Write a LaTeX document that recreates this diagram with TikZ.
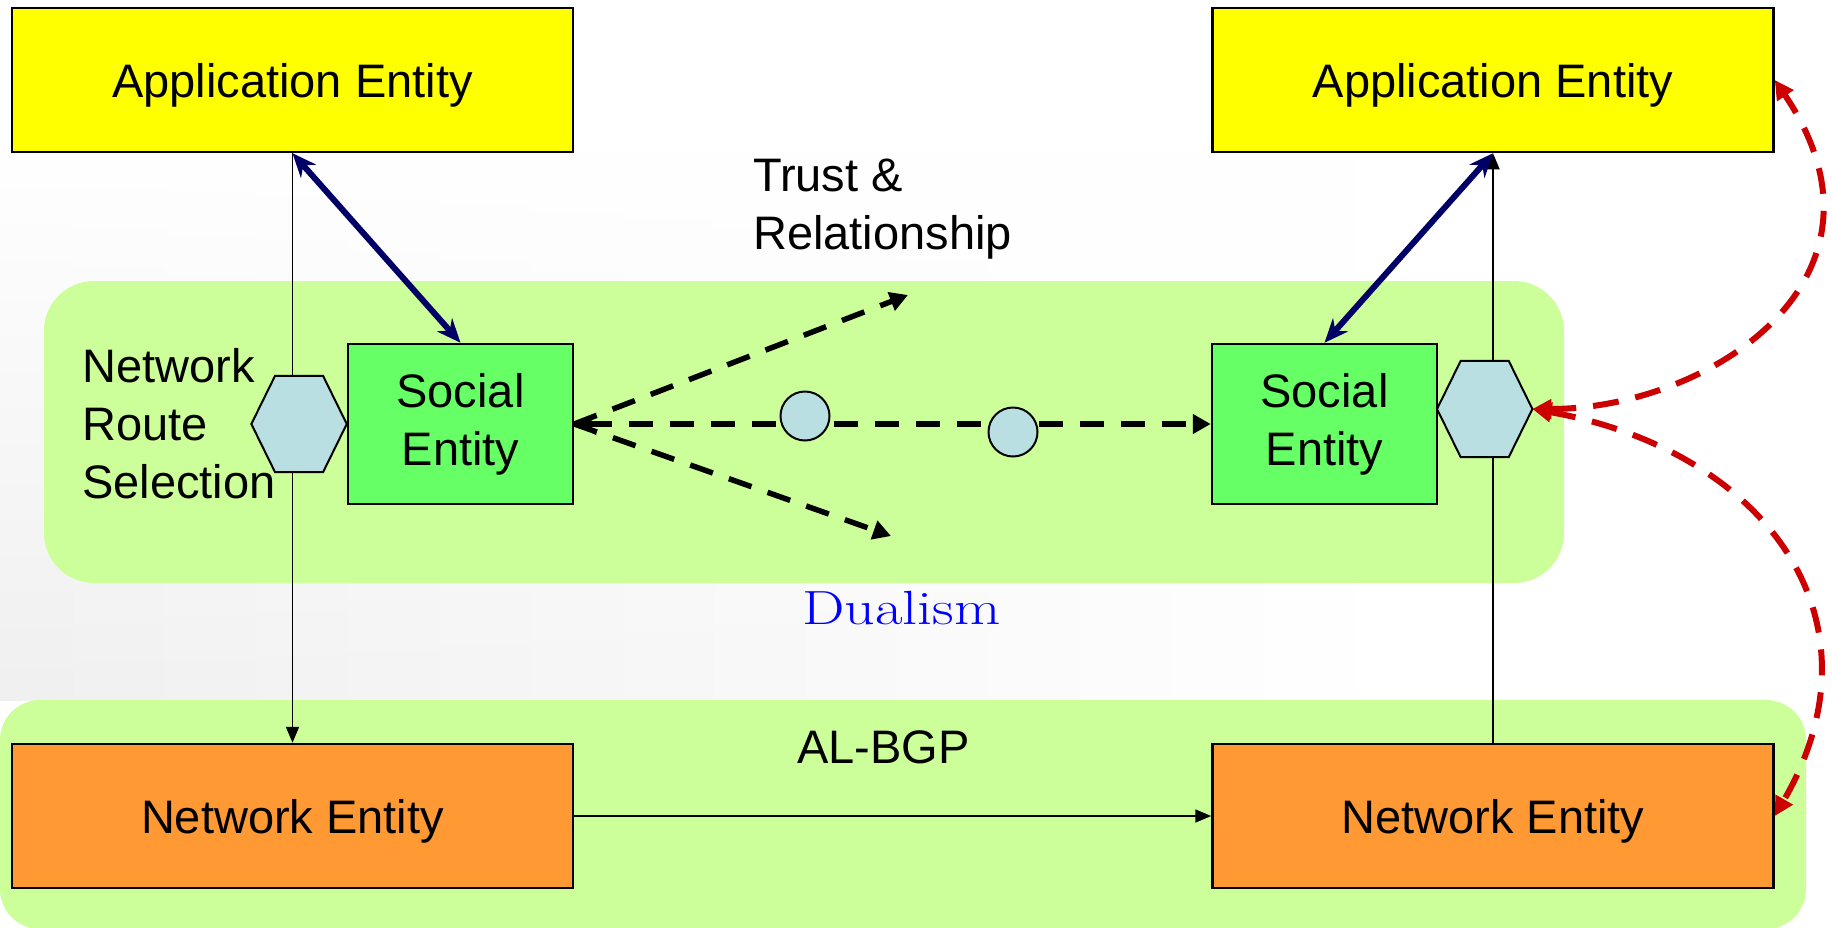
\documentclass[tikz,border=0pt]{standalone}
\usepackage{fontspec}
\newfontfamily\arialfont{Liberation Sans}
\usetikzlibrary{arrows.meta,fadings}

\definecolor{appyellow}{HTML}{FFFF00}
\definecolor{socgreen}{HTML}{66FF66}
\definecolor{bandgreen}{HTML}{CCFF99}
\definecolor{netorange}{HTML}{FF9933}
\definecolor{hexblue}{HTML}{B9DFE3}
\definecolor{linknavy}{HTML}{000066}
\definecolor{linkred}{HTML}{CC0000}

\begin{document}
\begin{tikzpicture}[x=1pt,y=-1pt,
    every node/.style={font=\arialfont\fontsize{47}{58}\selectfont},
    band/.style={fill=bandgreen, rounded corners=50pt},
    entity/.style={draw, line width=2.5pt, minimum width=561pt,
      minimum height=144pt, text height=34pt, text depth=0pt, inner sep=0pt},
    social/.style={draw, line width=2.5pt, fill=socgreen, minimum width=225pt,
      minimum height=160pt, align=center, inner sep=0pt},
    hexbox/.style={minimum width=95pt, minimum height=96pt, inner sep=0pt},
    hexdraw/.style={draw, line width=2pt, fill=hexblue},
    relay/.style={circle, draw, line width=2pt, fill=hexblue,
      minimum size=49pt, inner sep=0pt},
    thin link/.style={line width=1.8pt, -{Triangle[length=16pt,width=13pt]}},
    mapping/.style={linknavy, line width=6pt,
      {Stealth[length=24pt,width=20pt]}-{Stealth[length=24pt,width=20pt]}},
    trust/.style={line width=5.5pt, dash pattern=on 24pt off 17pt,
      -{Triangle[length=18pt,width=19pt]}},
    feedback/.style={linkred, line width=6pt, dash pattern=on 26pt off 17pt,
      {Triangle[length=19pt,width=19pt]}-{Triangle[length=19pt,width=19pt]}},
    txt/.style={inner sep=0pt}]

  % backdrop and layer bands
  \useasboundingbox (0,0) rectangle (1833,927);
  \fill[white] (0,0) rectangle (1833,927);
  \shade[left color=black!6, right color=white, path fading=north]
    (0,150) rectangle (1400,700);
  \fill[band] (44,281) rectangle (1564,583);
  \fill[band, rounded corners=40pt] (0,700) rectangle (1806,929);

  % entities
  \node[entity, fill=appyellow] (appL) at (292.5,80) {Application Entity};
  \node[entity, fill=appyellow] (appR) at (1493,80) {Application Entity};
  \node[entity, fill=netorange] (netL) at (292.5,816) {Network Entity};
  \node[entity, fill=netorange] (netR) at (1493,816) {Network Entity};
  \node[social] (socL) at (460.5,424) {Social\\Entity};
  \node[social] (socR) at (1324.5,424) {Social\\Entity};

  \draw[thin link] (appL.south) -- (netL.north);
  \draw[thin link] (netR.north) -- (appR.south);
  \draw[thin link] (netL.east) -- (netR.west);

  % route selection hexagons
  \node[hexbox, anchor=east] (hexL) at (socL.west) {};
  \node[hexbox, anchor=west] (hexR) at (1437,409) {};
  \foreach \h in {hexL,hexR}
    \draw[hexdraw] (\h.west) -- ([xshift=-24pt]\h.north) -- ([xshift=24pt]\h.north)
      -- (\h.east) -- ([xshift=24pt]\h.south) -- ([xshift=-24pt]\h.south) -- cycle;

  \draw[mapping] (appL.south) -- (socL.north);
  \draw[mapping] (appR.south) -- (socR.north);

  % trust links
  \coordinate (trustend) at (908,295);
  \coordinate (dualend) at (891,536);
  \draw[trust] (socL.east) -- (trustend);
  \draw[trust] (socL.east) -- (dualend);
  \draw[trust, {Stealth[length=22pt,width=22pt]}-{Triangle[length=18pt,width=19pt]}]
    (socL.east) -- (socR.west);
  \node[relay] (c1) at (805,416) {};
  \node[relay] (c2) at (1013,432) {};

  \draw[feedback] (hexR.east) .. controls +(175,0) and +(135,200) .. (appR.east);
  \draw[feedback] (hexR.east) to[out=-10,in=60,looseness=1.25] (netR.east);

  % labels
  \node[txt, anchor=west, align=left] (route) at (82,424) {Network\\Route\\Selection};
  \node[txt, anchor=west, align=left] (trust) at (753,209) {Trust \&\\Relationship};
  \node[txt, anchor=base west, text=blue, font=\rmfamily\fontsize{48}{56}\selectfont]
    (dual) at (802,624) {\scalebox{1.25}[1]{Dualism}};
  \node[txt, anchor=base west] (albgp) at (797,763) {AL-BGP};
\end{tikzpicture}
\end{document}
